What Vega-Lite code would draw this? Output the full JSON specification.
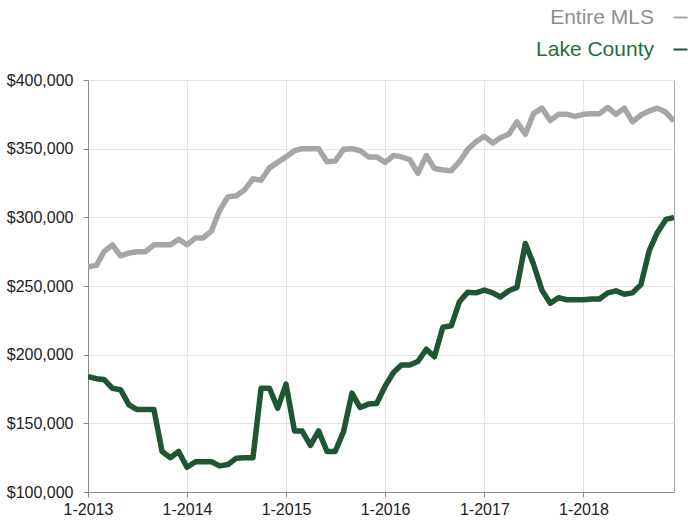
{
  "$schema": "https://vega.github.io/schema/vega-lite/v6.json",
  "width": 586,
  "height": 412,
  "autosize": {"type": "none"},
  "padding": {"left": 88, "top": 80, "right": 14, "bottom": 29},
  "background": "white",
  "config": {"font": "Liberation Sans", "view": {"stroke": "#a8a8a8", "strokeWidth": 1}},
  "title": {"text": "Average Sales Price", "anchor": "start", "frame": "group", "orient": "top", "baseline": "alphabetic", "offset": 79, "dx": -76, "fontSize": 21, "fontWeight": "normal", "color": "#111111"},
  "data": {"values": [
    {"d": "2013/01/01", "Entire MLS": 264000, "Lake County": 184000},
    {"d": "2013/02/01", "Entire MLS": 265000, "Lake County": 182500},
    {"d": "2013/03/01", "Entire MLS": 275000, "Lake County": 182000},
    {"d": "2013/04/01", "Entire MLS": 280000, "Lake County": 175500},
    {"d": "2013/05/01", "Entire MLS": 272000, "Lake County": 174500},
    {"d": "2013/06/01", "Entire MLS": 274000, "Lake County": 163500},
    {"d": "2013/07/01", "Entire MLS": 275000, "Lake County": 160000},
    {"d": "2013/08/01", "Entire MLS": 275000, "Lake County": 160000},
    {"d": "2013/09/01", "Entire MLS": 280000, "Lake County": 160000},
    {"d": "2013/10/01", "Entire MLS": 280000, "Lake County": 129500},
    {"d": "2013/11/01", "Entire MLS": 280000, "Lake County": 125000},
    {"d": "2013/12/01", "Entire MLS": 284000, "Lake County": 129500},
    {"d": "2014/01/01", "Entire MLS": 280000, "Lake County": 118000},
    {"d": "2014/02/01", "Entire MLS": 285000, "Lake County": 122000},
    {"d": "2014/03/01", "Entire MLS": 285000, "Lake County": 122000},
    {"d": "2014/04/01", "Entire MLS": 290000, "Lake County": 122000},
    {"d": "2014/05/01", "Entire MLS": 305000, "Lake County": 119000},
    {"d": "2014/06/01", "Entire MLS": 315000, "Lake County": 120000},
    {"d": "2014/07/01", "Entire MLS": 315500, "Lake County": 124500},
    {"d": "2014/08/01", "Entire MLS": 320000, "Lake County": 125000},
    {"d": "2014/09/01", "Entire MLS": 328000, "Lake County": 125000},
    {"d": "2014/10/01", "Entire MLS": 327000, "Lake County": 175500},
    {"d": "2014/11/01", "Entire MLS": 336000, "Lake County": 175500},
    {"d": "2014/12/01", "Entire MLS": 340000, "Lake County": 161000},
    {"d": "2015/01/01", "Entire MLS": 344000, "Lake County": 178500},
    {"d": "2015/02/01", "Entire MLS": 348500, "Lake County": 144500},
    {"d": "2015/03/01", "Entire MLS": 350000, "Lake County": 144500},
    {"d": "2015/04/01", "Entire MLS": 350000, "Lake County": 134000},
    {"d": "2015/05/01", "Entire MLS": 350000, "Lake County": 144500},
    {"d": "2015/06/01", "Entire MLS": 340500, "Lake County": 129500},
    {"d": "2015/07/01", "Entire MLS": 341000, "Lake County": 129500},
    {"d": "2015/08/01", "Entire MLS": 349500, "Lake County": 144000},
    {"d": "2015/09/01", "Entire MLS": 350000, "Lake County": 172000},
    {"d": "2015/10/01", "Entire MLS": 348500, "Lake County": 161500},
    {"d": "2015/11/01", "Entire MLS": 344000, "Lake County": 164000},
    {"d": "2015/12/01", "Entire MLS": 344000, "Lake County": 164500},
    {"d": "2016/01/01", "Entire MLS": 340000, "Lake County": 177000},
    {"d": "2016/02/01", "Entire MLS": 345000, "Lake County": 187000},
    {"d": "2016/03/01", "Entire MLS": 344000, "Lake County": 192500},
    {"d": "2016/04/01", "Entire MLS": 342000, "Lake County": 192500},
    {"d": "2016/05/01", "Entire MLS": 332000, "Lake County": 195000},
    {"d": "2016/06/01", "Entire MLS": 345000, "Lake County": 204000},
    {"d": "2016/07/01", "Entire MLS": 335500, "Lake County": 198500},
    {"d": "2016/08/01", "Entire MLS": 334500, "Lake County": 220000},
    {"d": "2016/09/01", "Entire MLS": 334000, "Lake County": 221000},
    {"d": "2016/10/01", "Entire MLS": 340500, "Lake County": 238500},
    {"d": "2016/11/01", "Entire MLS": 349500, "Lake County": 245500},
    {"d": "2016/12/01", "Entire MLS": 355000, "Lake County": 245000},
    {"d": "2017/01/01", "Entire MLS": 359000, "Lake County": 247000},
    {"d": "2017/02/01", "Entire MLS": 354000, "Lake County": 245000},
    {"d": "2017/03/01", "Entire MLS": 358000, "Lake County": 242000},
    {"d": "2017/04/01", "Entire MLS": 360500, "Lake County": 246500},
    {"d": "2017/05/01", "Entire MLS": 369500, "Lake County": 249000},
    {"d": "2017/06/01", "Entire MLS": 360500, "Lake County": 281000},
    {"d": "2017/07/01", "Entire MLS": 375500, "Lake County": 266000},
    {"d": "2017/08/01", "Entire MLS": 379500, "Lake County": 247000},
    {"d": "2017/09/01", "Entire MLS": 370500, "Lake County": 237500},
    {"d": "2017/10/01", "Entire MLS": 375000, "Lake County": 241500},
    {"d": "2017/11/01", "Entire MLS": 375000, "Lake County": 240000},
    {"d": "2017/12/01", "Entire MLS": 373500, "Lake County": 240000},
    {"d": "2018/01/01", "Entire MLS": 375000, "Lake County": 240000},
    {"d": "2018/02/01", "Entire MLS": 375500, "Lake County": 240500},
    {"d": "2018/03/01", "Entire MLS": 375500, "Lake County": 240500},
    {"d": "2018/04/01", "Entire MLS": 380000, "Lake County": 245000},
    {"d": "2018/05/01", "Entire MLS": 375000, "Lake County": 246500},
    {"d": "2018/06/01", "Entire MLS": 379500, "Lake County": 244000},
    {"d": "2018/07/01", "Entire MLS": 369500, "Lake County": 245000},
    {"d": "2018/08/01", "Entire MLS": 374500, "Lake County": 251000},
    {"d": "2018/09/01", "Entire MLS": 377500, "Lake County": 276000},
    {"d": "2018/10/01", "Entire MLS": 379500, "Lake County": 289000},
    {"d": "2018/11/01", "Entire MLS": 376500, "Lake County": 298500},
    {"d": "2018/12/01", "Entire MLS": 370000, "Lake County": 300000}
  ]},
  "transform": [{"fold": ["Entire MLS", "Lake County"], "as": ["series", "price"]}],
  "mark": {"type": "line", "strokeWidth": 5.5, "strokeJoin": "round", "clip": true},
  "encoding": {
    "x": {
      "field": "d", "type": "temporal",
      "scale": {"domain": [{"year": 2013, "month": 1, "date": 1}, {"year": 2018, "month": 12, "date": 1}]},
      "axis": {
        "values": [{"year": 2013, "month": 1, "date": 1}, {"year": 2014, "month": 1, "date": 1}, {"year": 2015, "month": 1, "date": 1}, {"year": 2016, "month": 1, "date": 1}, {"year": 2017, "month": 1, "date": 1}, {"year": 2018, "month": 1, "date": 1}],
        "format": "%-m-%Y", "title": null, "grid": true, "gridColor": "#e3e3e3",
        "domainColor": "#8a8a8a", "tickColor": "#8a8a8a", "tickSize": 5,
        "labelFontSize": 16, "labelColor": "#222222", "labelPadding": 4, "labelFlush": false
      }
    },
    "y": {
      "field": "price", "type": "quantitative",
      "scale": {"domain": [100000, 400000], "nice": false, "zero": false},
      "axis": {
        "values": [100000, 150000, 200000, 250000, 300000, 350000, 400000],
        "format": "$,.0f", "title": null, "grid": true, "gridColor": "#e3e3e3",
        "domainColor": "#8a8a8a", "tickColor": "#8a8a8a", "tickSize": 5,
        "labelFontSize": 16, "labelColor": "#222222", "labelPadding": 10
      }
    },
    "color": {
      "field": "series", "type": "nominal",
      "scale": {"domain": ["Entire MLS", "Lake County"], "range": ["#a6a6a6", "#1e5632"]},
      "legend": {
        "orient": "none", "legendX": 582, "legendY": -73, "title": null,
        "symbolType": "stroke", "symbolSize": 196, "symbolStrokeWidth": 2,
        "labelAlign": "right", "labelOffset": -37, "labelFontSize": 21,
        "labelColor": {"expr": "datum.label == 'Lake County' ? '#2a6a3c' : '#8e8e8e'"},
        "rowPadding": 10, "padding": 0, "labelLimit": 300
      }
    }
  }
}
